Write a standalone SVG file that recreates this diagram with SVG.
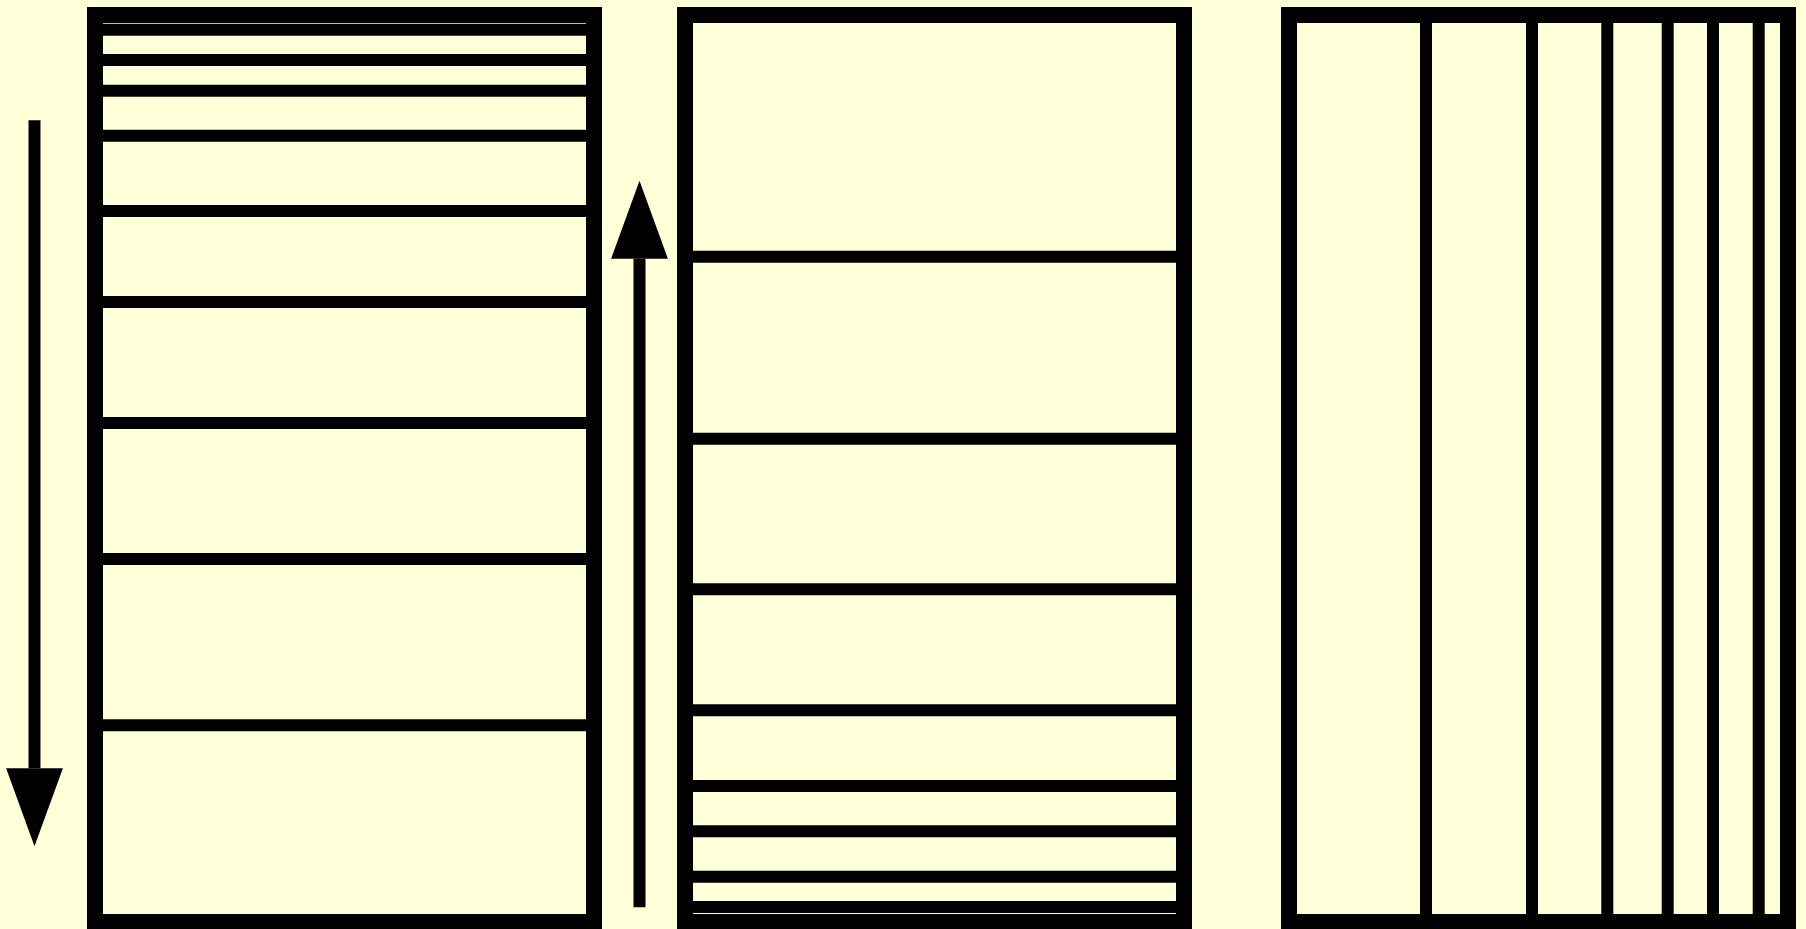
<svg xmlns="http://www.w3.org/2000/svg" width="1806" height="929" viewBox="0 0 1806 929">
  <style>
    .frame { fill: none; stroke: #000; stroke-width: 16; }
    .rule { stroke: #000; stroke-width: 12; }
    .shaft { stroke: #000; stroke-width: 12; fill: none; }
  </style>
  <defs>
    <marker id="head" markerUnits="userSpaceOnUse" markerWidth="78" markerHeight="57" refX="0" refY="28.4" orient="auto" overflow="visible">
      <path d="M0,0 L78,28.4 L0,56.8 Z" fill="#000"/>
    </marker>
  </defs>
  <rect x="0" y="0" width="1806" height="929" fill="#FFFFDA"/>

  <g id="panel-left">
    <line class="rule" x1="103" y1="29.7" x2="586" y2="29.7"/>
    <line class="rule" x1="103" y1="60" x2="586" y2="60"/>
    <line class="rule" x1="103" y1="90.8" x2="586" y2="90.8"/>
    <line class="rule" x1="103" y1="135.8" x2="586" y2="135.8"/>
    <line class="rule" x1="103" y1="211" x2="586" y2="211"/>
    <line class="rule" x1="103" y1="302" x2="586" y2="302"/>
    <line class="rule" x1="103" y1="423" x2="586" y2="423"/>
    <line class="rule" x1="103" y1="559" x2="586" y2="559"/>
    <line class="rule" x1="103" y1="725.3" x2="586" y2="725.3"/>
    <rect class="frame" x="95" y="15" width="499" height="907"/>
  </g>

  <g id="panel-middle">
    <line class="rule" x1="693" y1="256.7" x2="1176" y2="256.7"/>
    <line class="rule" x1="693" y1="438.7" x2="1176" y2="438.7"/>
    <line class="rule" x1="693" y1="589.3" x2="1176" y2="589.3"/>
    <line class="rule" x1="693" y1="710.3" x2="1176" y2="710.3"/>
    <line class="rule" x1="693" y1="786" x2="1176" y2="786"/>
    <line class="rule" x1="693" y1="831.3" x2="1176" y2="831.3"/>
    <line class="rule" x1="693" y1="876.7" x2="1176" y2="876.7"/>
    <line class="rule" x1="693" y1="907" x2="1176" y2="907"/>
    <rect class="frame" x="685" y="15" width="499" height="907"/>
  </g>

  <g id="panel-right">
    <line class="rule" x1="1426" y1="23" x2="1426" y2="914"/>
    <line class="rule" x1="1532" y1="23" x2="1532" y2="914"/>
    <line class="rule" x1="1607.3" y1="23" x2="1607.3" y2="914"/>
    <line class="rule" x1="1667.7" y1="23" x2="1667.7" y2="914"/>
    <line class="rule" x1="1713" y1="23" x2="1713" y2="914"/>
    <line class="rule" x1="1758.7" y1="23" x2="1758.7" y2="914"/>
    <rect class="frame" x="1289" y="15" width="499" height="907"/>
  </g>

  <g id="connectors">
    <line class="shaft" x1="34.5" y1="120.3" x2="34.5" y2="768.3" marker-end="url(#head)"/>
    <line class="shaft" x1="639.5" y1="907.3" x2="639.5" y2="258.7" marker-end="url(#head)"/>
  </g>
</svg>
